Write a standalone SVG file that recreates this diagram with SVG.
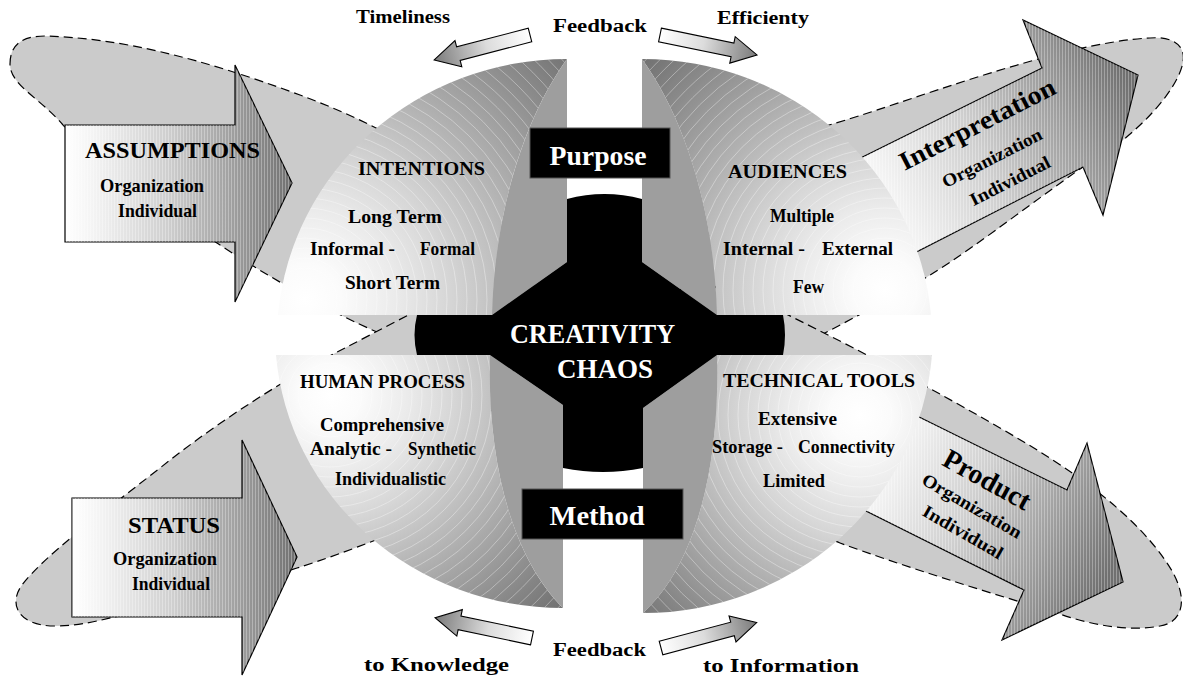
<svg xmlns="http://www.w3.org/2000/svg" width="1183" height="678" viewBox="0 0 1183 678">
<style>
.ell{fill:#cbcbcb;stroke:#000;stroke-width:1.2;stroke-dasharray:9 5}
.arr{stroke:#000;stroke-width:1.2;stroke-linejoin:miter}
.tex{fill:url(#stripe);stroke:none}
.face{fill:#9e9e9e}
.t{font-family:"Liberation Serif","Times New Roman",serif;font-weight:bold;fill:#000}
.w{fill:#fff}
.ring{fill:none;stroke:#fff;stroke-opacity:.45;stroke-width:.8}
.box{fill:#000;stroke:#555;stroke-width:1}
</style>
<defs>
<radialGradient id="gTL" gradientUnits="userSpaceOnUse" cx="305" cy="300" r="360">
<stop offset="0" stop-color="#ffffff"/><stop offset="0.1" stop-color="#fbfbfb"/><stop offset="0.25" stop-color="#ebebeb"/><stop offset="0.4" stop-color="#d6d6d6"/><stop offset="0.55" stop-color="#bdbdbd"/><stop offset="0.7" stop-color="#a4a4a4"/><stop offset="0.85" stop-color="#8b8b8b"/><stop offset="1" stop-color="#737373"/>
</radialGradient>
<radialGradient id="gTR" href="#gTL" cx="885" cy="290" r="330"/>
<radialGradient id="gBL" href="#gTL" cx="330" cy="395" r="310"/>
<radialGradient id="gBR" href="#gTL" cx="860" cy="415" r="300"/>
<linearGradient id="gAs" gradientUnits="userSpaceOnUse" x1="65" y1="0" x2="292" y2="0">
<stop offset="0" stop-color="#fff"/><stop offset="0.12" stop-color="#f4f4f4"/><stop offset="0.45" stop-color="#cfcfcf"/><stop offset="0.75" stop-color="#9d9d9d"/><stop offset="1" stop-color="#707070"/>
</linearGradient>
<linearGradient id="gSt" href="#gAs" x1="72" x2="297"/>
<linearGradient id="gIn" href="#gAs" x1="860" y1="215" x2="1130" y2="85"/>
<linearGradient id="gPr" href="#gAs" x1="860" y1="450" x2="1110" y2="570"/>
<linearGradient id="gSm" x1="0" y1="0" x2="1" y2="0">
<stop offset="0" stop-color="#fff"/><stop offset="0.45" stop-color="#dcdcdc"/><stop offset="1" stop-color="#7a7a7a"/>
</linearGradient>
<pattern id="stripe" width="3" height="4" patternUnits="userSpaceOnUse"><rect width="1" height="4" fill="#fff" fill-opacity=".3"/></pattern>
<polygon id="small" points="0,-7 74,-7 74,-13.5 99,0 74,13.5 74,7 0,7"/>
<g id="rings">
<circle class="ring" r="12"/><circle class="ring" r="22"/><circle class="ring" r="32"/><circle class="ring" r="42"/><circle class="ring" r="52"/><circle class="ring" r="62"/><circle class="ring" r="72"/><circle class="ring" r="82"/><circle class="ring" r="92"/><circle class="ring" r="102"/><circle class="ring" r="112"/><circle class="ring" r="122"/><circle class="ring" r="132"/><circle class="ring" r="142"/><circle class="ring" r="152"/><circle class="ring" r="162"/><circle class="ring" r="172"/><circle class="ring" r="182"/><circle class="ring" r="192"/><circle class="ring" r="202"/><circle class="ring" r="212"/><circle class="ring" r="222"/><circle class="ring" r="232"/><circle class="ring" r="242"/><circle class="ring" r="252"/><circle class="ring" r="262"/><circle class="ring" r="272"/><circle class="ring" r="282"/><circle class="ring" r="292"/><circle class="ring" r="302"/><circle class="ring" r="312"/><circle class="ring" r="322"/><circle class="ring" r="332"/><circle class="ring" r="342"/><circle class="ring" r="352"/><circle class="ring" r="362"/><circle class="ring" r="372"/><circle class="ring" r="382"/>
</g>
<clipPath id="cTL"><path d="M278,315 A290,281 0 0 1 567,59 C530,110 495,200 492,315 Z"/></clipPath>
<clipPath id="cTR"><path d="M642,59 A290,281 0 0 1 931,315 L717,315 C714,200 679,110 642,59 Z"/></clipPath>
<clipPath id="cBL"><path d="M276,355 L490,355 C487,470 515,560 563,608 A288,276 0 0 1 276,355 Z"/></clipPath>
<clipPath id="cBR"><path d="M717,355 L932,355 A290,281 0 0 1 643,613 C695,565 720,470 717,355 Z"/></clipPath>
</defs>

<g id="ellipses">
<path id="ell-assumptions" class="ell" d="M10,64 C10,45 22,36 45,36 C120,38 200,58 300,95 C380,125 470,170 520,250 C545,290 540,330 500,345 C460,360 420,352 377,332 C330,312 265,275 217,243 C150,200 90,160 63,125 C40,98 10,85 10,64 Z"/>
<path id="ell-status" class="ell" d="M470,285 C420,308 380,330 345,348 C290,376 220,420 160,468 C100,515 45,555 22,585 C8,604 18,626 55,626 C80,626 100,620 115,617 C200,600 260,580 297,568 C320,561 350,550 381,538 C430,520 500,400 520,357 Z"/>
<path id="ell-interpretation" class="ell" d="M660,345 C690,250 740,165 829,125 C900,105 1060,42 1150,38 C1172,36 1186,45 1183,62 C1180,80 1160,110 1123,140 C1060,180 980,245 927,277 C880,305 830,330 783,355 Z"/>
<path id="ell-product" class="ell" d="M720,282 C800,320 900,370 1000,428 C1070,468 1130,510 1165,560 C1190,595 1185,622 1160,626 C1130,632 1090,625 1057,613 C980,590 900,565 840,543 C780,520 700,400 660,350 Z"/>
</g>

<g id="arrow-assumptions">
<path class="arr" fill="url(#gAs)" d="M65,125 L235,125 L235,65 L292,183 L235,302 L235,242 L65,242 Z"/>
<path class="tex" d="M65,125 L235,125 L235,65 L292,183 L235,302 L235,242 L65,242 Z"/>
<text class="t" x="85" y="158" font-size="23" textLength="175" lengthAdjust="spacingAndGlyphs">ASSUMPTIONS</text>
<text class="t" x="100" y="192" font-size="19" textLength="104" lengthAdjust="spacingAndGlyphs">Organization</text>
<text class="t" x="118" y="217" font-size="19" textLength="79" lengthAdjust="spacingAndGlyphs">Individual</text>
</g>
<g id="arrow-status">
<path class="arr" fill="url(#gSt)" d="M72,498 L242,498 L242,440 L297,557 L242,675 L242,617 L72,617 Z"/>
<path class="tex" d="M72,498 L242,498 L242,440 L297,557 L242,675 L242,617 L72,617 Z"/>
<text class="t" x="128" y="533" font-size="23" textLength="92" lengthAdjust="spacingAndGlyphs">STATUS</text>
<text class="t" x="113" y="565" font-size="19" textLength="104" lengthAdjust="spacingAndGlyphs">Organization</text>
<text class="t" x="132" y="590" font-size="19" textLength="78" lengthAdjust="spacingAndGlyphs">Individual</text>
</g>
<g id="arrow-interpretation">
<path class="arr" fill="url(#gIn)" d="M800,188 L1042,68 L1023,20 L1138,75 L1103,215 L1083,167 L840,291 Z"/>
<path class="tex" d="M800,188 L1042,68 L1023,20 L1138,75 L1103,215 L1083,167 L840,291 Z"/>
</g>
<g id="arrow-product">
<path class="arr" fill="url(#gPr)" d="M820,368 L1067,490 L1087,443 L1123,582 L1002,640 L1024,590 L800,478 Z"/>
<path class="tex" d="M820,368 L1067,490 L1087,443 L1123,582 L1002,640 L1024,590 L800,478 Z"/>
</g>

<g id="quadrant-intentions">
<path fill="url(#gTL)" d="M278,315 A290,281 0 0 1 567,59 C530,110 495,200 492,315 Z"/>
<g clip-path="url(#cTL)"><use href="#rings" x="305" y="300"/></g>
<path class="face" d="M567,59 C530,110 495,200 492,315 L567,262 Z"/>
<text class="t" x="358" y="175" font-size="19" textLength="127" lengthAdjust="spacingAndGlyphs">INTENTIONS</text>
<text class="t" x="348" y="223" font-size="19" textLength="94" lengthAdjust="spacingAndGlyphs">Long Term</text>
<text class="t" x="310" y="255" font-size="19" textLength="85" lengthAdjust="spacingAndGlyphs">Informal -</text>
<text class="t" x="420" y="255" font-size="19" textLength="55" lengthAdjust="spacingAndGlyphs">Formal</text>
<text class="t" x="345" y="289" font-size="19" textLength="95" lengthAdjust="spacingAndGlyphs">Short Term</text>
</g>
<g id="quadrant-audiences">
<path fill="url(#gTR)" d="M642,59 A290,281 0 0 1 931,315 L717,315 C714,200 679,110 642,59 Z"/>
<g clip-path="url(#cTR)"><use href="#rings" x="885" y="290"/></g>
<path class="face" d="M642,59 C679,110 714,200 717,315 L642,262 Z"/>
<text class="t" x="728" y="178" font-size="19" textLength="119" lengthAdjust="spacingAndGlyphs">AUDIENCES</text>
<text class="t" x="770" y="222" font-size="19" textLength="64" lengthAdjust="spacingAndGlyphs">Multiple</text>
<text class="t" x="723" y="255" font-size="19" textLength="82" lengthAdjust="spacingAndGlyphs">Internal -</text>
<text class="t" x="822" y="255" font-size="19" textLength="71" lengthAdjust="spacingAndGlyphs">External</text>
<text class="t" x="793" y="293" font-size="19" textLength="31" lengthAdjust="spacingAndGlyphs">Few</text>
</g>
<g id="quadrant-human-process">
<path fill="url(#gBL)" d="M276,355 L490,355 C487,470 515,560 563,608 A288,276 0 0 1 276,355 Z"/>
<g clip-path="url(#cBL)"><use href="#rings" x="330" y="395"/></g>
<path class="face" d="M490,355 C487,470 515,560 563,608 L563,405 Z"/>
<text class="t" x="300" y="388" font-size="19" textLength="165" lengthAdjust="spacingAndGlyphs">HUMAN PROCESS</text>
<text class="t" x="320" y="431" font-size="19" textLength="124" lengthAdjust="spacingAndGlyphs">Comprehensive</text>
<text class="t" x="310" y="455" font-size="19" textLength="82" lengthAdjust="spacingAndGlyphs">Analytic -</text>
<text class="t" x="408" y="455" font-size="19" textLength="68" lengthAdjust="spacingAndGlyphs">Synthetic</text>
<text class="t" x="335" y="485" font-size="19" textLength="111" lengthAdjust="spacingAndGlyphs">Individualistic</text>
</g>
<g id="quadrant-technical-tools">
<path fill="url(#gBR)" d="M717,355 L932,355 A290,281 0 0 1 643,613 C695,565 720,470 717,355 Z"/>
<g clip-path="url(#cBR)"><use href="#rings" x="860" y="415"/></g>
<path class="face" d="M717,355 C720,470 695,565 643,613 L643,408 Z"/>
<text class="t" x="723" y="387" font-size="19" textLength="192" lengthAdjust="spacingAndGlyphs">TECHNICAL TOOLS</text>
<text class="t" x="758" y="425" font-size="19" textLength="79" lengthAdjust="spacingAndGlyphs">Extensive</text>
<text class="t" x="712" y="453" font-size="19" textLength="71" lengthAdjust="spacingAndGlyphs">Storage -</text>
<text class="t" x="798" y="453" font-size="19" textLength="97" lengthAdjust="spacingAndGlyphs">Connectivity</text>
<text class="t" x="763" y="487" font-size="19" textLength="62" lengthAdjust="spacingAndGlyphs">Limited</text>
</g>

<g id="arrow-labels">
<g transform="translate(977,124) rotate(-27)"><text class="t" x="0" y="9" font-size="26" text-anchor="middle" textLength="172" lengthAdjust="spacingAndGlyphs">Interpretation</text></g>
<g transform="translate(992,158) rotate(-27)"><text class="t" x="0" y="6" font-size="18" text-anchor="middle" textLength="110" lengthAdjust="spacingAndGlyphs">Organization</text></g>
<g transform="translate(1010,181) rotate(-27)"><text class="t" x="0" y="6" font-size="18" text-anchor="middle" textLength="88" lengthAdjust="spacingAndGlyphs">Individual</text></g>
<g transform="translate(987,480) rotate(29)"><text class="t" x="0" y="9" font-size="28" text-anchor="middle" textLength="96" lengthAdjust="spacingAndGlyphs">Product</text></g>
<g transform="translate(972,506) rotate(30)"><text class="t" x="0" y="6" font-size="18" text-anchor="middle" textLength="112" lengthAdjust="spacingAndGlyphs">Organization</text></g>
<g transform="translate(963,532) rotate(30)"><text class="t" x="0" y="6" font-size="18" text-anchor="middle" textLength="90" lengthAdjust="spacingAndGlyphs">Individual</text></g>
</g>

<g id="core">
<path fill="#000" d="M567,199 Q604.5,189 642,199 L642,262 L717,315 L783,315 Q787,335 783,355 L717,355 L643,408 L643,468 Q603,476 563,468 L563,405 L490,355 L417,355 Q412,335 417,315 L492,315 L567,262 Z"/>
<text class="t w" x="510" y="343" font-size="27" textLength="165" lengthAdjust="spacingAndGlyphs">CREATIVITY</text>
<text class="t w" x="557" y="378" font-size="27" textLength="96" lengthAdjust="spacingAndGlyphs">CHAOS</text>
</g>
<g id="purpose">
<rect class="box" x="530" y="128" width="140" height="50"/>
<text class="t w" x="598" y="165" font-size="27" text-anchor="middle" textLength="97" lengthAdjust="spacingAndGlyphs">Purpose</text>
</g>
<g id="method">
<rect class="box" x="522" y="489" width="161" height="50"/>
<text class="t w" x="597" y="525" font-size="27" text-anchor="middle" textLength="95" lengthAdjust="spacingAndGlyphs">Method</text>
</g>

<g id="connectors">
<use href="#small" transform="translate(530,35) rotate(165.4)" fill="url(#gSm)" stroke="#000" stroke-width="1.1"/>
<use href="#small" transform="translate(660,35) rotate(11.6)" fill="url(#gSm)" stroke="#000" stroke-width="1.1"/>
<use href="#small" transform="translate(532,638) rotate(191.8)" fill="url(#gSm)" stroke="#000" stroke-width="1.1"/>
<use href="#small" transform="translate(661,648) rotate(-14.9)" fill="url(#gSm)" stroke="#000" stroke-width="1.1"/>
</g>
<g id="feedback-labels">
<text class="t" x="356" y="23" font-size="18" textLength="94" lengthAdjust="spacingAndGlyphs">Timeliness</text>
<text class="t" x="553" y="32" font-size="18" textLength="94" lengthAdjust="spacingAndGlyphs">Feedback</text>
<text class="t" x="717" y="24" font-size="18" textLength="92" lengthAdjust="spacingAndGlyphs">Efficienty</text>
<text class="t" x="553" y="656" font-size="18" textLength="93" lengthAdjust="spacingAndGlyphs">Feedback</text>
<text class="t" x="364" y="671" font-size="19" textLength="145" lengthAdjust="spacingAndGlyphs">to Knowledge</text>
<text class="t" x="703" y="672" font-size="19" textLength="156" lengthAdjust="spacingAndGlyphs">to Information</text>
</g>
</svg>
